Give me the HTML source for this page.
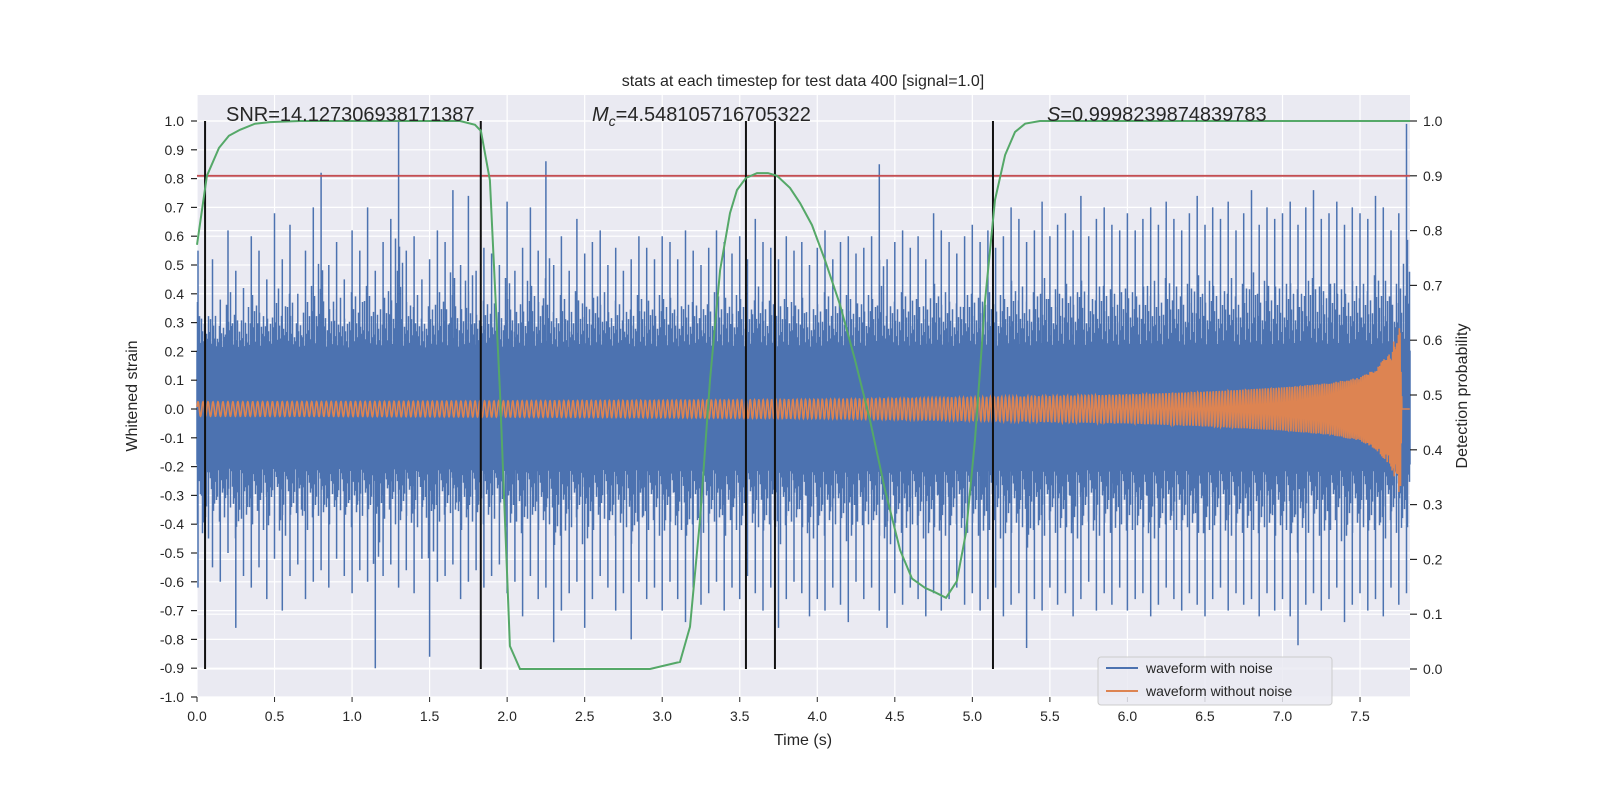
<!DOCTYPE html>
<html><head><meta charset="utf-8"><style>
body{margin:0;background:#fff;}
svg text{font-family:"Liberation Sans","DejaVu Sans",sans-serif;fill:#262626;}
</style></head><body>
<svg id="chart" width="1600" height="800" xmlns="http://www.w3.org/2000/svg">
<rect x="0" y="0" width="1600" height="800" fill="#fff"/>
<rect x="197" y="95" width="1213" height="602" fill="#EAEAF2"/>
<g id="grid"></g>
<g id="series"></g>
<g id="axes"></g>
<text x="803" y="86" font-size="16" text-anchor="middle">stats at each timestep for test data 400 [signal=1.0]</text>
<text x="226" y="121" font-size="20">SNR=14.127306938171387</text>
<text x="592" y="121" font-size="20"><tspan font-style="italic">M</tspan><tspan font-style="italic" font-size="14" dy="5">c</tspan><tspan dy="-5">=4.548105716705322</tspan></text>
<text x="1047" y="121" font-size="20"><tspan font-style="italic">S</tspan>=0.9998239874839783</text>
<text x="803" y="745" font-size="16" text-anchor="middle">Time (s)</text>
<text transform="translate(137,396) rotate(-90)" font-size="16" text-anchor="middle">Whitened strain</text>
<text transform="translate(1467,396) rotate(-90)" font-size="16" text-anchor="middle">Detection probability</text>
<g>
<rect x="1098" y="657" width="234" height="48" rx="3" fill="#EAEAF2" fill-opacity="0.85" stroke="#cccccc"/>
<line x1="1106" y1="668" x2="1138" y2="668" stroke="#4C72B0" stroke-width="2"/>
<text x="1146" y="673" font-size="14">waveform with noise</text>
<line x1="1106" y1="691" x2="1138" y2="691" stroke="#DD8452" stroke-width="2"/>
<text x="1146" y="696" font-size="14">waveform without noise</text>
</g>
</svg>
<script>
// ---- data ----
const noiseHi = [0.55,0.45,0.52,0.38,0.62,0.48,0.42,0.60,0.55,0.45,0.68,0.52,0.64,0.40,0.55,0.70,0.82,0.50,0.58,0.45,
0.62,0.55,0.70,0.48,0.58,0.66,1.00,0.55,0.60,0.45,0.52,0.62,0.58,0.76,0.50,0.74,0.48,0.56,0.54,0.50,
0.72,0.48,0.56,0.70,0.55,0.86,0.50,0.60,0.48,0.66,0.54,0.58,0.62,0.50,0.56,0.48,0.52,0.60,0.56,0.52,
0.60,0.58,0.52,0.62,0.55,0.50,0.56,0.62,0.58,0.54,0.60,0.52,0.66,0.58,0.56,0.52,0.60,0.55,0.58,0.50,
0.56,0.62,0.52,0.58,0.60,0.54,0.56,0.60,0.85,0.52,0.58,0.62,0.56,0.60,0.52,0.68,0.62,0.58,0.54,0.60,
0.64,0.58,0.62,0.56,0.60,0.70,0.66,0.58,0.62,0.72,0.60,0.64,0.68,0.62,0.74,0.60,0.66,0.70,0.64,0.62,
0.68,0.62,0.66,0.70,0.64,0.72,0.66,0.62,0.68,0.74,0.64,0.70,0.66,0.72,0.62,0.68,0.76,0.64,0.70,0.66,
0.68,0.72,0.64,0.70,0.76,0.66,0.68,0.72,0.64,0.70,0.68,0.66,0.74,0.70,0.62,0.68,0.99,0.62,0.60,0.58,0.56];
const noiseLo = [-0.62,-0.72,-0.55,-0.60,-0.50,-0.76,-0.58,-0.62,-0.55,-0.66,-0.52,-0.70,-0.58,-0.54,-0.66,-0.60,-0.56,-0.62,-0.52,-0.58,
-0.64,-0.56,-0.60,-0.90,-0.58,-0.54,-0.62,-0.56,-0.64,-0.52,-0.86,-0.60,-0.58,-0.54,-0.66,-0.60,-0.56,-0.62,-0.58,-0.54,
-0.64,-0.60,-0.72,-0.58,-0.66,-0.62,-0.81,-0.70,-0.64,-0.60,-0.76,-0.66,-0.58,-0.62,-0.70,-0.64,-0.80,-0.60,-0.66,-0.62,
-0.70,-0.60,-0.66,-0.74,-0.62,-0.68,-0.64,-0.60,-0.70,-0.62,-0.66,-0.58,-0.64,-0.70,-0.62,-0.76,-0.66,-0.60,-0.64,-0.72,
-0.66,-0.70,-0.62,-0.68,-0.74,-0.60,-0.66,-0.62,-0.70,-0.76,-0.64,-0.68,-0.62,-0.66,-0.72,-0.64,-0.70,-0.66,-0.62,-0.68,
-0.64,-0.70,-0.66,-0.62,-0.72,-0.68,-0.64,-0.83,-0.66,-0.70,-0.62,-0.68,-0.64,-0.72,-0.66,-0.60,-0.70,-0.64,-0.68,-0.62,
-0.70,-0.66,-0.64,-0.72,-0.68,-0.62,-0.66,-0.70,-0.64,-0.68,-0.72,-0.66,-0.62,-0.70,-0.64,-0.68,-0.66,-0.72,-0.64,-0.70,
-0.66,-0.72,-0.82,-0.68,-0.64,-0.70,-0.66,-0.62,-0.74,-0.68,-0.64,-0.70,-0.66,-0.72,-0.62,-0.68,-0.64,-0.60,-0.58,-0.56,-0.54];
const noiseStep = 0.05;
const coreHi = 0.2, coreLo = -0.19;
const cleanT = [0,1,2,3,4,5,5.5,6,6.5,7,7.3,7.5,7.6,7.7,7.74,7.76,7.77,7.82];
const cleanAmp = [0.025,0.026,0.028,0.03,0.033,0.04,0.045,0.05,0.06,0.075,0.09,0.11,0.14,0.2,0.28,0.3,0,0];
const cleanFreq = [31,32,33,35,37,40,43,46,50,58,66,80,95,130,170,200,200,200];
const probT = [0,0.064,0.142,0.206,0.277,0.374,0.471,0.664,1.696,1.793,1.831,1.889,1.954,2.018,2.083,2.921,3.115,3.179,3.244,3.308,3.373,3.437,3.482,3.54,3.611,3.682,3.74,3.824,3.889,3.966,4.05,4.147,4.243,4.34,4.437,4.534,4.611,4.695,4.76,4.83,4.9,4.96,5.017,5.082,5.146,5.211,5.275,5.34,5.436,7.822];
const probV = [0.774,0.9,0.951,0.973,0.984,0.995,0.998,1,1,0.993,0.982,0.892,0.504,0.042,0,0,0.013,0.077,0.272,0.527,0.728,0.832,0.874,0.896,0.905,0.905,0.9,0.878,0.85,0.81,0.746,0.664,0.564,0.454,0.327,0.217,0.165,0.148,0.14,0.13,0.16,0.25,0.418,0.673,0.856,0.938,0.98,0.995,1,1];
const eventTimes = [0.052,1.83,3.54,3.727,5.133];
const threshold = 0.9;
const xTicks = ["0.0","0.5","1.0","1.5","2.0","2.5","3.0","3.5","4.0","4.5","5.0","5.5","6.0","6.5","7.0","7.5"];
const yLeftTicks = ["-1.0","-0.9","-0.8","-0.7","-0.6","-0.5","-0.4","-0.3","-0.2","-0.1","0.0","0.1","0.2","0.3","0.4","0.5","0.6","0.7","0.8","0.9","1.0"];
const yRightTicks = ["0.0","0.1","0.2","0.3","0.4","0.5","0.6","0.7","0.8","0.9","1.0"];
// ---- scales ----
const X0=197, X1=1410, TMAX=(X1-X0)/155.07;
const xs=t=>X0+t*155.07;
const yl=v=>409-v*288;
const yr=p=>669-p*548;
const NS="http://www.w3.org/2000/svg";
function mk(tag,parent,attrs){const e=document.createElementNS(NS,tag);for(const k in attrs)e.setAttribute(k,attrs[k]);parent.appendChild(e);return e;}
function interp(T,V,t){if(t<=T[0])return V[0];for(let i=1;i<T.length;i++){if(t<=T[i]){const f=(t-T[i-1])/(T[i]-T[i-1]);return V[i-1]+f*(V[i]-V[i-1]);}}return V[V.length-1];}
const grid=document.getElementById('grid'), series=document.getElementById('series'), axes=document.getElementById('axes');
xTicks.forEach(s=>{const x=xs(+s);
const g=mk('line',grid,{x1:x,x2:x,y1:95,y2:697,stroke:'#fff','stroke-width':1.2});

});
yLeftTicks.forEach(s=>{const y=yl(+s);
const g=mk('line',grid,{x1:X0,x2:X1,y1:y,y2:y,stroke:'#fff','stroke-width':1.2});

});
yRightTicks.forEach(s=>{const y=yr(+s);
const g=mk('line',grid,{x1:X0,x2:X1,y1:y,y2:y,stroke:'#fff','stroke-width':1.2});

});
// noisy waveform
let d='';
const ycH=yl(coreHi), ycL=yl(coreLo);
d+=`M${X0} ${ycH}H${X1}V${ycL}H${X0}Z`;
const pat=[0.3,0.5,0.12,0.65,0.4,0.2,0.55,0.08,0.35,0.25,0.7];
for(let px=X0;px<X1;px+=1){
  const t=(px-X0)/155.07; const i=Math.min(noiseHi.length-1,Math.round(t/noiseStep));
  const k=pat[px%pat.length], k2=pat[(px*3+2)%pat.length];
  const h=coreHi+(noiseHi[i]-coreHi)*k*0.7, l=coreLo+(noiseLo[i]-coreLo)*k2*0.7;
  d+=`M${px+0.5} ${yl(h).toFixed(1)}V${yl(l).toFixed(1)}`;
}
noiseHi.forEach((v,i)=>{const t=i*noiseStep; if(t>TMAX)return; const x=Math.max(X0+1,xs(t)).toFixed(1);
  d+=`M${x} ${yl(v).toFixed(1)}V${yl(noiseLo[i]).toFixed(1)}`;});
const blue=mk('path',series,{d:d,stroke:'#4C72B0','stroke-width':1.5,fill:'#4C72B0'});


// clean waveform
let od='', ph=0; const dt=0.0015;
for(let t=0;t<=TMAX;t+=dt){
  const a=interp(cleanT,cleanAmp,t);
  ph+=2*Math.PI*interp(cleanT,cleanFreq,t)*dt;
  const v=a*Math.sin(ph);
  od+=(t===0?'M':'L')+xs(t).toFixed(2)+' '+yl(v).toFixed(2);
}
const orange=mk('path',series,{d:od,stroke:'#DD8452','stroke-width':1.6,fill:'none'});


const th=mk('line',series,{x1:X0,x2:X1,y1:yr(threshold),y2:yr(threshold),stroke:'#C44E52','stroke-width':1.8});


eventTimes.forEach(t=>{const x=xs(t);
const l=mk('line',series,{x1:x,x2:x,y1:yr(1),y2:yr(0),stroke:'#111','stroke-width':2});

});
const pd=probT.map((t,i)=>(i?'L':'M')+xs(t).toFixed(1)+' '+yr(probV[i]).toFixed(1)).join('');
const green=mk('path',series,{d:pd,stroke:'#55A868','stroke-width':2,fill:'none'});


xTicks.forEach(s=>{const x=xs(+s);
mk('line',axes,{x1:x,x2:x,y1:697,y2:702,stroke:'#262626','stroke-width':1});
const tx=mk('text',axes,{x:x,y:721,'font-size':14,'text-anchor':'middle'});tx.textContent=s;

});
yLeftTicks.forEach(s=>{const y=yl(+s);
mk('line',axes,{x1:191,x2:197,y1:y,y2:y,stroke:'#262626','stroke-width':1.2});
const tx=mk('text',axes,{x:184,y:y+5,'font-size':14,'text-anchor':'end'});tx.textContent=s;

});
yRightTicks.forEach(s=>{const y=yr(+s);
mk('line',axes,{x1:1410,x2:1417,y1:y,y2:y,stroke:'#262626','stroke-width':1.2});
const tx=mk('text',axes,{x:1423,y:y+5,'font-size':14,'text-anchor':'start'});tx.textContent=s;

});
</script>
</body></html>
